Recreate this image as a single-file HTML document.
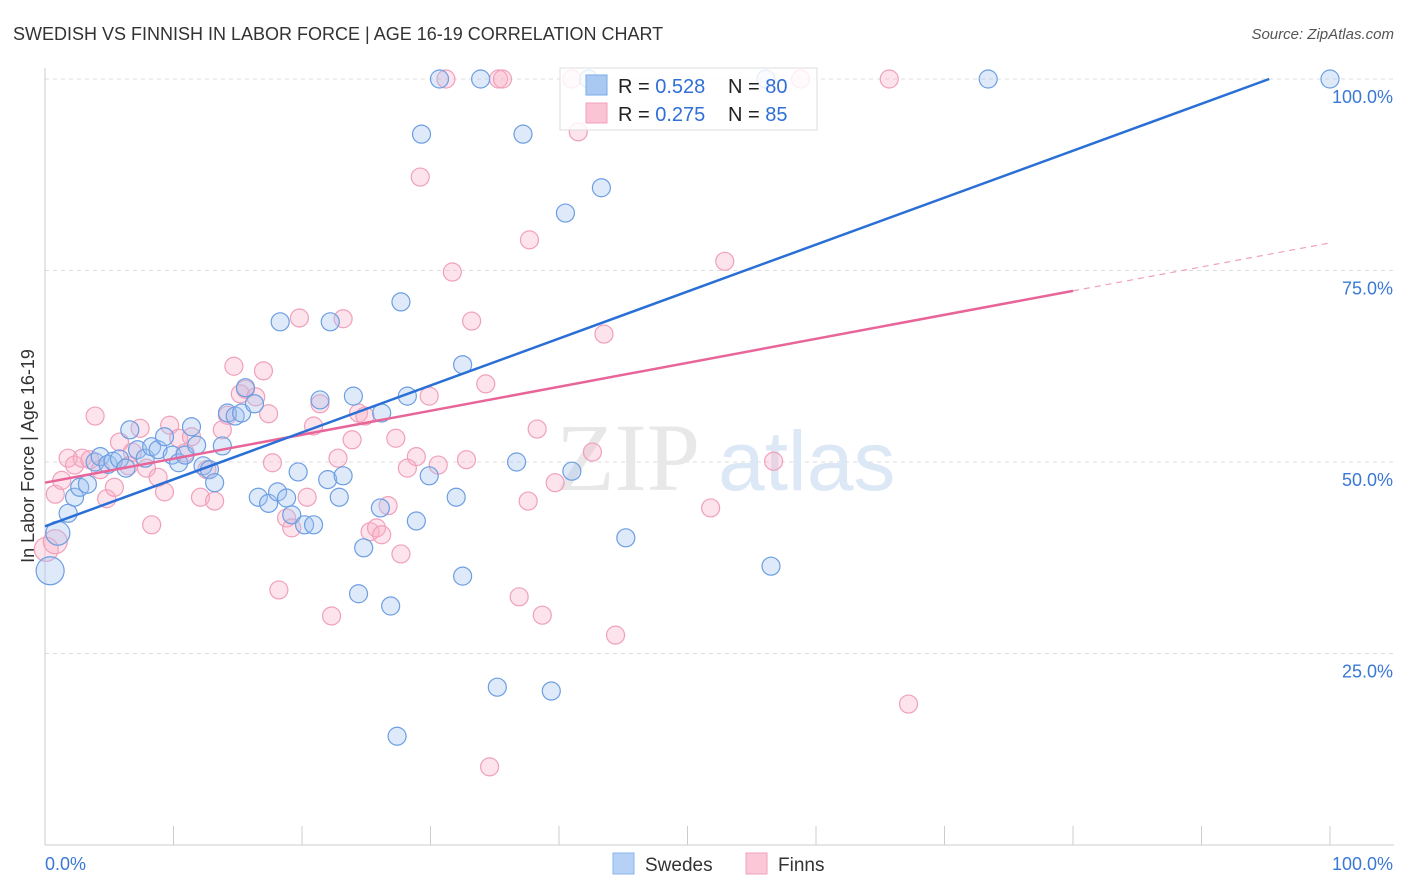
<!DOCTYPE html>
<html><head><meta charset="utf-8"><style>
body{margin:0;background:#fff;font-family:"Liberation Sans",sans-serif}
svg{display:block}
</style></head><body>
<svg id="chart" width="1406" height="892" viewBox="0 0 1406 892" xmlns="http://www.w3.org/2000/svg">
<text x="13" y="40" font-size="18" fill="#333" font-family="Liberation Sans, sans-serif">SWEDISH VS FINNISH IN LABOR FORCE | AGE 16-19 CORRELATION CHART</text>
<text x="1394" y="39" font-size="15" fill="#555" text-anchor="end" font-style="italic">Source: ZipAtlas.com</text>
<text transform="translate(34,456) rotate(-90)" font-size="18" fill="#333" text-anchor="middle">In Labor Force | Age 16-19</text>
<g id="grid"></g>
<g>
<text x="556" y="490" font-size="96" fill="#e8e8e8" font-family="Liberation Serif, serif">ZIP</text>
<text x="718" y="490" font-size="84" fill="#dde8f6">atlas</text>
</g>
<g id="points"></g>
<g id="lines"></g>
<g>
<rect x="560" y="68" width="257" height="62" fill="#fff" fill-opacity="0.82" stroke="#ddd"/>
<rect x="586" y="75" width="21" height="20" fill="#a9c9f2" stroke="#7aaae8"/>
<rect x="586" y="103" width="21" height="20" fill="#fac4d4" stroke="#f0a0bb"/>
<text x="618" y="93" font-size="20" fill="#222">R = <tspan fill="#2f6fd6">0.528</tspan></text>
<text x="728" y="93" font-size="20" fill="#222">N = <tspan fill="#2f6fd6">80</tspan></text>
<text x="618" y="121" font-size="20" fill="#222">R = <tspan fill="#2f6fd6">0.275</tspan></text>
<text x="728" y="121" font-size="20" fill="#222">N = <tspan fill="#2f6fd6">85</tspan></text>
</g>
<g>
<rect x="613" y="853" width="21" height="21" fill="#b5d1f5" stroke="#8ab4ea"/>
<text x="645" y="871" font-size="19" fill="#333">Swedes</text>
<rect x="746" y="853" width="21" height="21" fill="#fbc8d7" stroke="#f0a0bb"/>
<text x="778" y="871" font-size="19" fill="#333">Finns</text>
</g>
</svg>
<script>
const yTicks=[25,50,75,100];
const yTickLabels=["25.0%","50.0%","75.0%","100.0%"];
const xTickLabels=["0.0%","100.0%"];
const swedesX=[0.4,1.0,1.8,2.3,2.7,3.3,3.9,4.3,4.9,5.3,5.8,6.3,6.6,7.2,7.8,8.3,8.8,9.3,9.9,10.4,10.9,11.4,11.8,12.3,12.8,13.2,13.8,14.2,14.8,15.3,15.6,16.3,16.6,17.4,18.1,18.3,18.8,19.2,19.7,20.2,20.9,21.4,22.0,22.2,23.2,22.9,24.0,24.4,24.8,26.1,26.2,26.9,27.4,27.7,28.2,28.9,29.3,29.9,30.7,32.0,32.5,32.5,33.9,35.2,36.7,37.2,39.4,40.5,41.0,42.3,43.3,45.2,56.5,73.4,100,56.1];
const swedesY=[35.8,40.7,43.3,45.4,46.7,47.1,50.0,50.7,49.7,50.1,50.4,49.2,54.2,51.6,50.5,52.0,51.6,53.3,50.9,49.9,50.9,54.6,52.2,49.5,49.0,47.3,52.1,56.4,56.0,56.4,59.7,57.6,45.4,44.6,46.1,68.3,45.3,43.1,48.7,41.8,41.8,58.1,47.7,68.3,48.2,45.4,58.6,32.8,38.8,44.0,56.4,31.2,14.2,70.9,58.6,42.3,92.8,48.2,100,45.4,62.7,35.1,100,20.6,50.0,92.8,20.1,82.5,48.8,100,85.8,40.1,36.4,100,100,100];
const swedesR=[14,12,9,9,9,9,9,9,9,9,9,9,9,9,9,9,9,9,9,9,9,9,9,9,9,9,9,9,9,9,9,9,9,9,9,9,9,9,9,9,9,9,9,9,9,9,9,9,9,9,9,9,9,9,9,9,9,9,9,9,9,9,9,9,9,9,9,9,9,9,9,9,9,9,9,9];
const finnsX=[0.1,0.8,0.8,1.3,1.8,2.3,2.9,3.5,3.9,4.3,4.8,5.4,5.8,6.5,6.8,7.4,7.9,8.3,8.8,9.3,9.7,10.4,10.9,11.4,12.1,12.6,13.2,13.8,14.2,14.7,15.2,15.6,16.4,17.0,17.4,17.7,18.2,18.8,19.2,19.8,20.4,20.9,21.4,22.3,22.8,23.2,23.9,24.4,24.9,25.3,25.8,26.2,26.7,27.3,27.7,28.2,28.9,29.2,29.9,30.6,31.2,31.7,32.8,33.2,34.3,34.6,35.3,35.6,36.9,37.6,37.7,38.3,38.7,39.7,41.0,41.5,42.6,43.5,44.4,51.8,52.9,56.7,58.8,65.7,67.2];
const finnsY=[38.6,39.6,45.8,47.6,50.5,49.6,50.5,50.3,56.0,49.0,45.2,46.7,52.6,49.5,51.3,54.4,49.2,41.8,48.0,46.1,54.8,53.1,51.2,53.3,45.4,49.0,44.9,54.2,56.1,62.5,58.9,59.5,58.5,61.9,56.3,49.9,33.3,42.7,41.4,68.8,45.4,54.7,57.6,29.9,50.5,68.7,52.9,56.4,56.0,40.9,41.4,40.5,44.3,53.1,38.0,49.2,50.7,87.2,58.6,49.6,100,74.8,50.3,68.4,60.2,10.2,100,100,32.4,44.9,79.0,54.3,30.0,47.3,100,93.1,51.3,66.7,27.4,44.0,76.2,50.1,100,100,18.4];
const swedesTrend=[41.6,102.9];
const finnsTrend=[47.3,78.6];
const X0=45,X1=1330,Y0=845,Y100=79;
const sx=v=>X0+(X1-X0)*v/100, sy=v=>Y0-(Y0-Y100)*v/100;
const NS="http://www.w3.org/2000/svg";
function mk(tag,attrs,parent){const e=document.createElementNS(NS,tag);for(const k in attrs)e.setAttribute(k,attrs[k]);parent.appendChild(e);return e;}
const grid=document.getElementById('grid');
yTicks.forEach((t,i)=>{
 const l=mk('line',{x1:X0,x2:1394,y1:sy(t),y2:sy(t),stroke:'#ddd','stroke-dasharray':'4 4'},grid);
 
 
 const tx=mk('text',{x:1393,y:sy(t)+24,'font-size':18,fill:'#3a78d6','text-anchor':'end'},grid);
 tx.textContent=yTickLabels[i];
 
 
});
const ax=mk('line',{x1:X0,x2:X0,y1:68,y2:Y0,stroke:'#ccc'},grid);


const bx=mk('line',{x1:X0,x2:1394,y1:Y0,y2:Y0,stroke:'#ccc'},grid);


for(let i=1;i<=10;i++){
 const t=mk('line',{x1:sx(i*10),x2:sx(i*10),y1:826,y2:Y0,stroke:'#ccc'},grid);
 
 
}
[[0,'start',45],[100,'end',1393]].forEach((d,i)=>{
 const tx=mk('text',{x:d[2],y:870,'font-size':18,fill:'#3a78d6','text-anchor':d[1]},grid);
 tx.textContent=xTickLabels[i];
 
 
});
const pts=document.getElementById('points');
finnsX.forEach((x,i)=>{
 const c=mk('circle',{cx:sx(x),cy:sy(finnsY[i]),r:(i<2?12:9),fill:'rgba(248,175,198,0.35)',stroke:'#f0a0bb','stroke-width':1.2},pts);
 
 
});
swedesX.forEach((x,i)=>{
 const c=mk('circle',{cx:sx(x),cy:sy(swedesY[i]),r:swedesR[i],fill:'rgba(160,196,240,0.35)',stroke:'#6c9ee2','stroke-width':1.2},pts);
 
 
});
const ln=document.getElementById('lines');
const fy=x=>finnsTrend[0]+(finnsTrend[1]-finnsTrend[0])*x/100;
const l1=mk('line',{x1:sx(0),y1:sy(fy(0)),x2:sx(80),y2:sy(fy(80)),stroke:'#e8659a','stroke-width':2.5},ln);


const l2=mk('line',{x1:sx(80),y1:sy(fy(80)),x2:sx(100),y2:sy(fy(100)),stroke:'#f0a0bb','stroke-width':1.2,'stroke-dasharray':'6 5'},ln);


const sxEnd=100*(100-swedesTrend[0])/(swedesTrend[1]-swedesTrend[0]);
const l3=mk('line',{x1:sx(0),y1:sy(swedesTrend[0]),x2:sx(sxEnd),y2:sy(100),stroke:'#2a6fd6','stroke-width':2.5},ln);


</script>
</body></html>
